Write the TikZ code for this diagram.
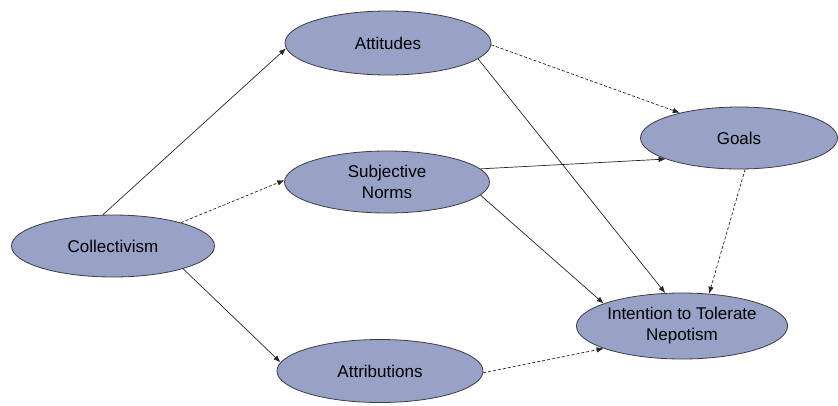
\documentclass[tikz,border=0pt]{standalone}
\usepackage{fontspec}
\setmainfont{Liberation Sans}
\usetikzlibrary{shapes.geometric,arrows.meta}
\definecolor{ovalfill}{RGB}{152,162,198}
\definecolor{ovalline}{RGB}{60,60,70}
\tikzset{
  oval/.style={ellipse, draw=ovalline, line width=0.8pt, fill=ovalfill,
    minimum width=#1, inner sep=0pt, font=\fontsize{17}{21}\selectfont, align=center},
  oval/.default=204pt,
  link/.style={draw=black!85, line width=0.7pt, -{Latex[length=7pt,width=5.5pt]}},
  dlink/.style={link, dash pattern=on 3pt off 2pt},
}
\begin{document}
\begin{tikzpicture}[x=1pt,y=-1pt]
\useasboundingbox (0,0) rectangle (838,405);
\node[oval=203pt, minimum height=62pt] (col) at (113,246) {Collectivism};
\node[oval=206pt, minimum height=64pt] (att) at (388,43) {Attitudes};
\node[oval=205pt, minimum height=62pt] (sn) at (387,182) {Subjective\\Norms};
\node[oval=206pt, minimum height=63pt] (attr) at (380,371) {Attributions};
\node[oval=197pt, minimum height=62pt] (goals) at (739,138) {Goals};
\node[oval=201pt, minimum height=66pt] (int) at (682,326) {Intention to Tolerate\\Nepotism};

\draw[link] (col.108) -- (att.183);
\draw[dlink] (col.19) -- (sn.179);
\draw[link] (col.-18) -- (attr.175);
\draw[dlink] (att.-1) -- (goals.157);
\draw[link] (att.-10) -- (int.117);
\draw[link] (sn.8) -- (goals.196);
\draw[link] (sn.-8) -- (int.164);
\draw[dlink] (goals.-79) -- (int.50);
\draw[dlink] (attr.-1) -- (int.196);
\end{tikzpicture}
\end{document}
